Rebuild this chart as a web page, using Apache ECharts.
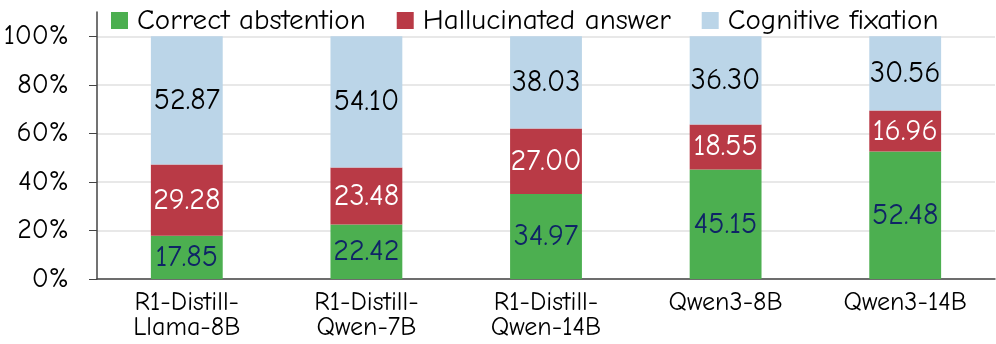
<!DOCTYPE html>
<html>
<head>
<meta charset="utf-8">
<script src="https://cdn.jsdelivr.net/npm/echarts@6/dist/echarts.min.js"></script>
<style>
  html, body { margin: 0; padding: 0; background: #fff; }
  #chart { width: 996px; height: 344px; }
</style>
</head>
<body>
<div id="chart"></div>
<script>
  // models on the x axis
  const models = ['R1-Distill-\nLlama-8B', 'R1-Distill-\nQwen-7B', 'R1-Distill-\nQwen-14B', 'Qwen3-8B', 'Qwen3-14B']
  // share of each outcome (%)
  const correctAbstention = [17.85, 22.42, 34.97, 45.15, 52.48]
  const hallucinated = [29.28, 23.48, 27.00, 18.55, 16.96]
  const fixation = [52.87, 54.10, 38.03, 36.30, 30.56]
  const yTicks = [0, 20, 40, 60, 80, 100]

  const font = '"Comic Sans MS", "Comic Neue", "DejaVu Sans", sans-serif'

  const chart = echarts.init(document.getElementById('chart'))

  function seg (name, data, color, labelColor) {
    return {
      name: name,
      type: 'bar',
      stack: 'total',
      barWidth: '40%',
      data: data,
      itemStyle: { color: color },
      label: {
        show: true,
        position: 'inside',
        color: labelColor,
        fontFamily: font,
        fontSize: 30,
        formatter: p => p.value.toFixed(2)
      }
    }
  }

  chart.setOption({
    animation: false,
    textStyle: { fontFamily: font },
    legend: {
      top: 1,
      left: 106,
      itemWidth: 17,
      itemHeight: 17,
      itemGap: 31,
      icon: 'rect',
      textStyle: { fontSize: 29, color: '#000', fontFamily: font, padding: [0, 0, 0, 4] },
      data: ['Correct abstention', 'Hallucinated answer', 'Cognitive fixation']
    },
    grid: { left: 97, right: 1, top: 12, bottom: 65 },
    xAxis: {
      type: 'category',
      data: models,
      axisLine: { lineStyle: { color: '#444', width: 1.5 } },
      axisTick: { alignWithLabel: true, length: 7, lineStyle: { color: '#444' } },
      axisLabel: { color: '#000', fontSize: 26, fontFamily: font, margin: 11, lineHeight: 25 }
    },
    yAxis: {
      type: 'value',
      min: 0,
      max: 110,
      interval: 20,
      axisLine: { show: true, lineStyle: { color: '#444', width: 1.5 } },
      axisTick: { show: true, length: 8, lineStyle: { color: '#444' }, customValues: yTicks },
      axisLabel: {
        color: '#000', fontSize: 28, fontFamily: font, margin: 28,
        customValues: yTicks,
        formatter: v => v + '%'
      },
      splitLine: { show: true, lineStyle: { color: '#e0e0e0', width: 1.5 } }
    },
    series: [
      seg('Correct abstention', correctAbstention, '#4caf50', '#0f2466'),
      seg('Hallucinated answer', hallucinated, '#b93a46', '#ffffff'),
      seg('Cognitive fixation', fixation, '#bbd5e8', '#000000')
    ]
  })
</script>
</body>
</html>
